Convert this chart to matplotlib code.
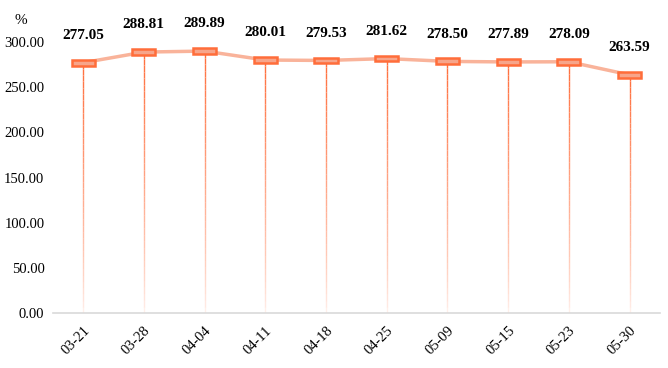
import numpy as np
import matplotlib
matplotlib.use('Agg')
import matplotlib.pyplot as plt
from matplotlib.collections import LineCollection
from matplotlib.colors import to_rgb

dates = ['03-21', '03-28', '04-04', '04-11', '04-18', '04-25',
         '05-09', '05-15', '05-23', '05-30']
values = [277.05, 288.81, 289.89, 280.01, 279.53, 281.62,
          278.50, 277.89, 278.09, 263.59]

plt.rcParams['font.family'] = ['Liberation Serif', 'DejaVu Serif']

fig = plt.figure(figsize=(6.68, 3.68), dpi=100)
ax = fig.add_axes([0.079, 0.149, 0.909, 0.737])

x = np.arange(len(dates))
line_col = '#f9b39a'
edge_col = '#ff6d3a'
fill_col = '#f7a58a'

# drop lines fading towards the bottom
segs = []
cols = []
r, g, b = to_rgb(edge_col)
n = 40
for xi, v in zip(x, values):
    ys = np.linspace(0, v, n + 1)
    for k in range(n):
        segs.append([(xi, ys[k]), (xi, ys[k + 1])])
        a = 0.1 + 0.9 * (k / n) ** 0.8
        cols.append((r, g, b, a))
ax.add_collection(LineCollection(segs, colors=cols, linewidths=1.0, zorder=1))

ax.plot(x, values, color=line_col, lw=2.5, zorder=2)
for xi, v in zip(x, values):
    ax.add_patch(plt.Rectangle((xi - 0.19, v - 3.2), 0.38, 6.4,
                               facecolor=fill_col, edgecolor=edge_col,
                               lw=1.8, zorder=3))
    ax.annotate('%.2f' % v, (xi, v), xytext=(0, 15), textcoords='offset points',
                ha='center', va='bottom', fontsize=11, fontweight='bold',
                annotation_clip=False)

ax.set_xlim(-0.5, len(dates) - 0.5)
ax.set_ylim(0, 300)
ax.set_yticks(np.arange(0, 301, 50))
ax.set_yticklabels(['%.2f' % t for t in np.arange(0, 301, 50)], fontsize=10.5)
ax.set_xticks(x)
ax.set_xticklabels(dates, rotation=45, ha='right', rotation_mode='anchor',
                   fontsize=10.5)
ax.tick_params(length=0, pad=6)
ax.tick_params(axis='x', pad=8)
for s in ['top', 'right', 'left']:
    ax.spines[s].set_visible(False)
ax.spines['bottom'].set_color('#d9d9d9')
ax.spines['bottom'].set_linewidth(1.2)

fig.text(0.022, 0.935, '%', fontsize=11)

fig.savefig('out.png', dpi=100)
